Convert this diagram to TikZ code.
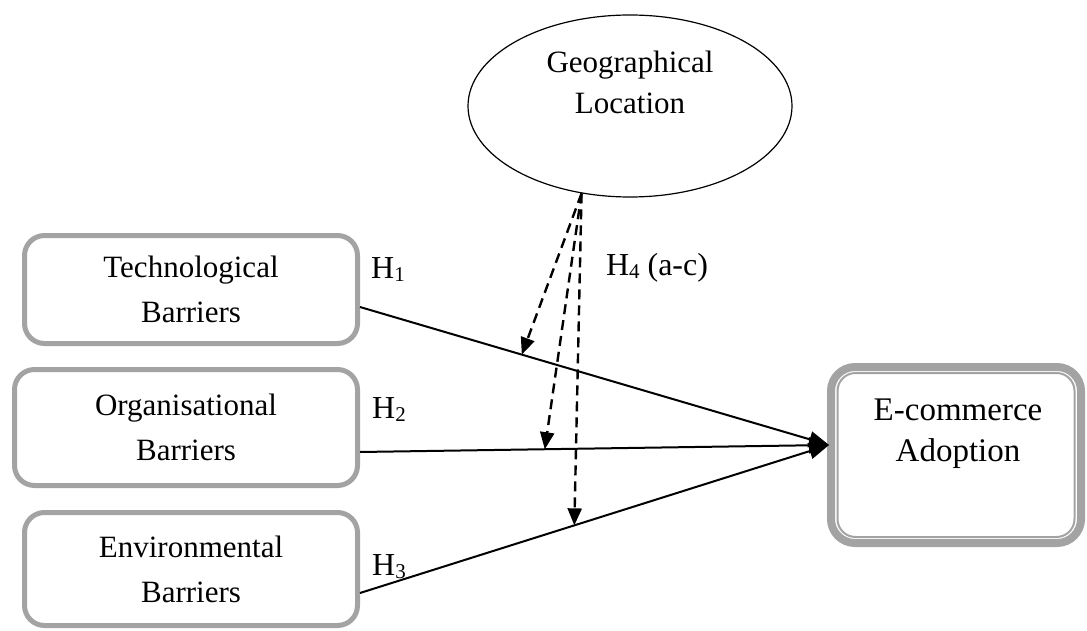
\documentclass[tikz,border=0pt]{standalone}
\usepackage{fontspec}
\setmainfont{Liberation Serif}
\newfontfamily\timesf{Liberation Serif}
\usetikzlibrary{arrows.meta,shapes.geometric,calc}
\definecolor{boxgray}{RGB}{163,163,163}
\begin{document}
\begin{tikzpicture}[x=0.5pt,y=-0.5pt,
  barrier/.style={draw=boxgray, line width=2.5pt, rounded corners=10pt, fill=white,
    align=center, font=\fontsize{15.5}{22.5}\selectfont, inner sep=0pt},
  hlabel/.style={font=\timesf\fontsize{16}{18}\selectfont, inner sep=0pt},
  mainarrow/.style={line width=1pt, -{Triangle[length=10pt,width=8pt]}},
  modarrow/.style={line width=1.2pt, dash pattern=on 5pt off 3pt, -{Triangle[length=8.5pt,width=7pt]}}]
\useasboundingbox (0,0) rectangle (1087,631);
% moderator
\node[draw, ellipse, line width=0.6pt, minimum width=162pt, minimum height=91pt, inner sep=0pt] (geo) at (630,106) {};
\node[align=center, font=\fontsize{15.5}{20.5}\selectfont, inner sep=0pt] (geotext) at (630,82) {Geographical\\Location};
% barriers
\node[barrier, minimum width=166.5pt, minimum height=54pt] (tech) at (191,289.5) {Technological\\Barriers};
\node[barrier, minimum width=171.5pt, minimum height=58pt] (org) at (186,427.5) {Organisational\\Barriers};
\node[barrier, minimum width=166.5pt, minimum height=56.5pt] (env) at (191,569) {Environmental\\Barriers};
% outcome
\node[draw=boxgray, line width=4pt, rounded corners=12pt, minimum width=125pt, minimum height=88pt] (ecom) at (956,455) {};
\node[draw=boxgray, line width=1pt, rounded corners=9pt, minimum width=118.5pt, minimum height=82pt] (ecomin) at (956,455) {};
\node[align=center, font=\timesf\fontsize{16.5}{20.5}\selectfont, inner sep=0pt] (ecomtext) at (958,434) {E-commerce\\Adoption};
% anchor points
\coordinate (tip) at ([xshift=1pt,yshift=5pt]ecom.west);
\coordinate (s1) at ([yshift=-8.75pt]tech.east);
\coordinate (s2) at ([yshift=-12.25pt]org.east);
\coordinate (s3) at ([yshift=-12pt]env.east);
\coordinate (g) at (geo.241);
% main paths
\draw[mainarrow] (s1) -- coordinate[pos=0.345] (m1) (tip);
\draw[mainarrow] (s2) -- coordinate[pos=0.394] (m2) (tip);
\draw[mainarrow] (s3) -- coordinate[pos=0.457] (m3) (tip);
% moderating paths
\draw[modarrow] (g) -- (m1);
\draw[modarrow] (g) -- (m2);
\draw[modarrow] (g) -- (m3);
% labels
\node[hlabel] (h1) at (388,270) {H\raisebox{-1.5pt}{\fontsize{10.5}{11}\selectfont 1}};
\node[hlabel] (h2) at (389,410) {H\raisebox{-1.5pt}{\fontsize{10.5}{11}\selectfont 2}};
\node[hlabel] (h3) at (389,567) {H\raisebox{-1.5pt}{\fontsize{10.5}{11}\selectfont 3}};
\node[hlabel] (h4) at (657,268) {H\raisebox{-1.5pt}{\fontsize{10.5}{11}\selectfont 4} (a-c)};
\end{tikzpicture}
\end{document}
